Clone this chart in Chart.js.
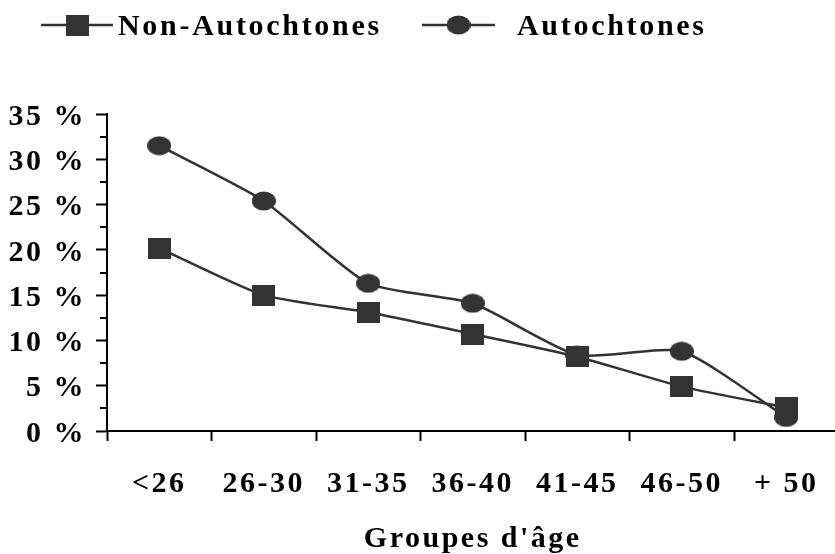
<!DOCTYPE html>
<html>
<head>
<meta charset="utf-8">
<script src="https://cdn.jsdelivr.net/npm/chart.js@4.4.1/dist/chart.umd.min.js"></script>
<style>
  html, body { margin: 0; padding: 0; background: #fff; overflow: hidden; }
  #wrap { width: 845px; height: 554px; }
</style>
</head>
<body>
<div id="wrap"><canvas id="ageChart" width="845" height="554"></canvas></div>
<script>
// groupes d'âge
var ageGroups = ['<26', '26-30', '31-35', '36-40', '41-45', '46-50', '+ 50'];
// pourcentages
var nonAutochtones = [20.2, 15.0, 13.1, 10.7, 8.2, 4.9, 2.6];
var autochtones = [31.5, 25.4, 16.3, 14.1, 8.4, 8.8, 1.5];
var seriesNames = ['Non-Autochtones', 'Autochtones'];
var axisTitle = "Groupes d'âge";

var INK = '#333333';
var FONT_FAMILY = '"Liberation Serif", "Times New Roman", serif';
var SPACING = '2.5px';

function makeSquare() {
    var c = document.createElement('canvas');
    c.width = 23; c.height = 21;
    var g = c.getContext('2d');
    g.fillStyle = INK;
    g.fillRect(0, 0, 23, 21);
    return c;
}

function makeDot() {
    var c = document.createElement('canvas');
    c.width = 24; c.height = 20;
    var g = c.getContext('2d');
    g.fillStyle = INK;
    g.beginPath();
    g.ellipse(12, 10, 12, 9.5, 0, 0, Math.PI * 2);
    g.fill();
    return c;
}

var squareMark = makeSquare();
var dotMark = makeDot();

// espacement des lettres comme sur l'original
var spacingPlugin = {
    id: 'spacing',
    beforeUpdate: function(chart) { chart.ctx.letterSpacing = SPACING; },
    beforeLayout: function(chart) { chart.ctx.letterSpacing = SPACING; },
    beforeDraw: function(chart) { chart.ctx.letterSpacing = SPACING; }
};

// petites graduations tous les 2,5 %
var minorTicks = {
    id: 'minorTicks',
    afterDraw: function(chart) {
        var y = chart.scales.y;
        var ctx = chart.ctx;
        ctx.save();
        ctx.strokeStyle = '#000';
        ctx.lineWidth = 2;
        for (var v = 2.5; v < y.max; v += 5) {
            var py = Math.round(y.getPixelForValue(v));
            ctx.beginPath();
            ctx.moveTo(y.right - 7, py);
            ctx.lineTo(y.right, py);
            ctx.stroke();
        }
        ctx.restore();
    }
};

// légende dessinée à la main (trait + symbole)
var lineLegend = {
    id: 'lineLegend',
    afterDraw: function(chart) {
        var ctx = chart.ctx;
        var items = [
            { x0: 41, x1: 113, mark: squareMark, tx: 118 },
            { x0: 422, x1: 495, mark: dotMark, tx: 517 }
        ];
        ctx.save();
        ctx.letterSpacing = '2.7px';
        ctx.font = 'bold 30px ' + FONT_FAMILY;
        ctx.textBaseline = 'alphabetic';
        ctx.textAlign = 'left';
        items.forEach(function(it, i) {
            var cy = 25;
            ctx.strokeStyle = INK;
            ctx.lineWidth = 2.5;
            ctx.beginPath();
            ctx.moveTo(it.x0, cy);
            ctx.lineTo(it.x1, cy);
            ctx.stroke();
            var mx = (it.x0 + it.x1) / 2;
            ctx.drawImage(it.mark, mx - it.mark.width / 2, cy - it.mark.height / 2);
            ctx.fillStyle = '#000';
            ctx.fillText(chart.data.datasets[i].label, it.tx, 35);
        });
        ctx.restore();
    }
};

var ctx = document.getElementById('ageChart');

new Chart(ctx, {
    type: 'line',
    data: {
        labels: ageGroups,
        datasets: [
            {
                label: seriesNames[0],
                data: nonAutochtones,
                borderColor: INK,
                backgroundColor: INK,
                borderWidth: 2.5,
                pointStyle: squareMark,
                tension: 0.2,
                fill: false
            },
            {
                label: seriesNames[1],
                data: autochtones,
                borderColor: INK,
                backgroundColor: INK,
                borderWidth: 2.5,
                pointStyle: dotMark,
                tension: 0.2,
                fill: false
            }
        ]
    },
    options: {
        responsive: false,
        animation: false,
        layout: { padding: { top: 114, left: 0, right: 0, bottom: 0 } },
        plugins: {
            legend: { display: false },
            tooltip: { enabled: false }
        },
        scales: {
            x: {
                offset: true,
                grid: {
                    offset: true,
                    drawOnChartArea: false,
                    drawTicks: true,
                    tickLength: 10,
                    tickWidth: 2,
                    tickColor: '#000'
                },
                border: { display: true, color: '#000', width: 2 },
                ticks: {
                    color: '#000',
                    font: { family: FONT_FAMILY, size: 30, weight: 'bold' },
                    padding: 25,
                    maxRotation: 0,
                    autoSkip: false
                },
                title: {
                    display: true,
                    text: axisTitle,
                    color: '#000',
                    font: { family: FONT_FAMILY, size: 30, weight: 'bold', lineHeight: 1 },
                    padding: { top: 0, bottom: 0 }
                },
                afterFit: function(scale) { scale.height = 123; }
            },
            y: {
                min: 0,
                max: 35,
                grid: {
                    drawOnChartArea: false,
                    drawTicks: true,
                    tickLength: 11,
                    tickWidth: 2,
                    tickColor: '#000'
                },
                border: { display: true, color: '#000', width: 2 },
                ticks: {
                    stepSize: 5,
                    color: '#000',
                    font: { family: FONT_FAMILY, size: 30, weight: 'bold' },
                    padding: 10,
                    labelOffset: 3,
                    callback: function(v) { return v + ' %'; }
                },
                afterFit: function(scale) { scale.width = 107; }
            }
        }
    },
    plugins: [spacingPlugin, minorTicks, lineLegend]
});
</script>
</body>
</html>
